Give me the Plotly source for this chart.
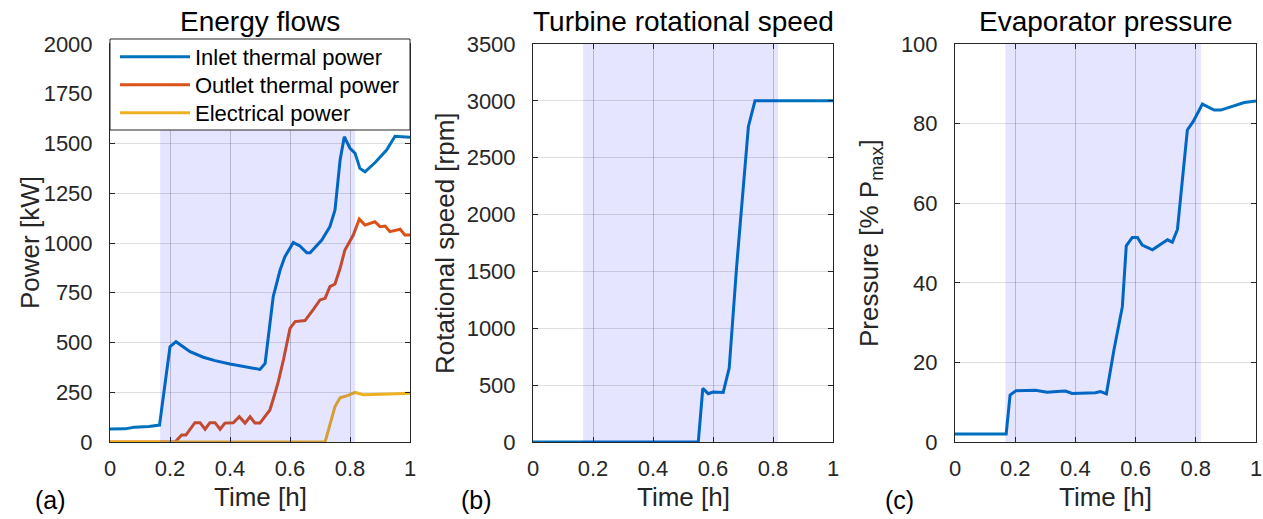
import plotly.graph_objects as go

W, H = 1263, 519

# ---------------- data ----------------
t_inlet = [0, 0.05, 0.08, 0.13, 0.165, 0.2, 0.22, 0.267, 0.311, 0.35, 0.4, 0.444, 0.5, 0.517,
           0.544, 0.567, 0.583, 0.611, 0.633, 0.656, 0.667, 0.706, 0.733, 0.75, 0.767, 0.781,
           0.8, 0.817, 0.833, 0.85, 0.883, 0.922, 0.95, 1.0]
p_inlet = [65, 66, 74, 78, 85, 479, 504, 454, 426, 409, 392, 379, 365, 395,
           730, 864, 931, 1002, 985, 951, 951, 1015, 1082, 1166, 1417, 1534,
           1476, 1451, 1375, 1358, 1403, 1467, 1536, 1531]

t_outlet = [0, 0.217, 0.239, 0.253, 0.283, 0.3, 0.317, 0.333, 0.35, 0.367, 0.383, 0.411, 0.431,
            0.45, 0.467, 0.483, 0.5, 0.533, 0.55, 0.561, 0.578, 0.6, 0.617, 0.65, 0.678, 0.7,
            0.717, 0.733, 0.75, 0.767, 0.783, 0.811, 0.831, 0.85, 0.883, 0.9, 0.917, 0.933,
            0.967, 0.983, 1.0]
p_outlet = [0, 0, 35, 35, 97, 97, 64, 97, 97, 64, 95, 97, 127,
            95, 127, 95, 95, 161, 245, 303, 412, 571, 605, 610, 667, 714,
            722, 781, 794, 873, 965, 1040, 1120, 1090, 1107, 1082, 1085, 1057,
            1069, 1040, 1040]

t_elec = [0, 0.717, 0.75, 0.767, 0.794, 0.817, 0.844, 0.883, 0.933, 1.0]
p_elec = [0, 0, 178, 222, 234, 249, 238, 238, 241, 245]

t_speed = [0, 0.551, 0.566, 0.584, 0.6, 0.634, 0.654, 0.679, 0.718, 0.74, 1.0]
speed = [0, 0, 472, 425, 440, 436, 650, 1550, 2775, 3000, 3000]

t_press = [0, 0.17, 0.183, 0.203, 0.267, 0.306, 0.339, 0.367, 0.389, 0.467, 0.483, 0.503,
           0.528, 0.556, 0.569, 0.589, 0.606, 0.622, 0.656, 0.689, 0.706, 0.722, 0.739,
           0.772, 0.791, 0.822, 0.861, 0.883, 0.928, 0.961, 1.0]
press = [2, 2, 11.8, 12.9, 13.0, 12.5, 12.7, 12.8, 12.2, 12.4, 12.7, 12.1,
         23.1, 34, 49.3, 51.4, 51.4, 49.5, 48.3, 49.9, 50.8, 50.2, 53.4,
         78.4, 80.5, 84.9, 83.4, 83.4, 84.4, 85.3, 85.7]

shade_start, shade_end = 0.167, 0.817

x_ticks = [0, 0.2, 0.4, 0.6, 0.8, 1]
x_ticktext = ["0", "0.2", "0.4", "0.6", "0.8", "1"]
y1_ticks = [0, 250, 500, 750, 1000, 1250, 1500, 1750, 2000]
y2_ticks = [0, 500, 1000, 1500, 2000, 2500, 3000, 3500]
y3_ticks = [0, 20, 40, 60, 80, 100]

titles = ["Energy flows", "Turbine rotational speed", "Evaporator pressure"]
ylabels = ["Power [kW]", "Rotational speed [rpm]", "Pressure [% P<sub>max</sub>]"]
panel_tags = ["(a)", "(b)", "(c)"]
series_names = ["Inlet thermal power", "Outlet thermal power", "Electrical power"]

# ---------------- style ----------------
FONT = "Liberation Sans"
AX = "#262626"
C_BLUE, C_RED, C_YEL = "#0072BD", "#D95319", "#EDB120"
LW = 3

# pixel layout
px_left = [110, 533, 955]
px_right = [410, 833, 1256]
py_top, py_bot = 44, 442


def fx(px):
    return px / W


def fy(py):
    return 1 - py / H


fig = go.Figure()

fig.add_trace(go.Scatter(x=t_inlet, y=p_inlet, mode="lines", name=series_names[0],
                         line=dict(color=C_BLUE, width=LW), xaxis="x", yaxis="y", legend="legend"))
fig.add_trace(go.Scatter(x=t_outlet, y=p_outlet, mode="lines", name=series_names[1],
                         line=dict(color=C_RED, width=LW), xaxis="x", yaxis="y", legend="legend2"))
fig.add_trace(go.Scatter(x=t_elec, y=p_elec, mode="lines", name=series_names[2],
                         line=dict(color=C_YEL, width=LW), xaxis="x", yaxis="y", legend="legend3"))
fig.add_trace(go.Scatter(x=t_speed, y=speed, mode="lines", showlegend=False,
                         line=dict(color=C_BLUE, width=LW), xaxis="x2", yaxis="y2"))
fig.add_trace(go.Scatter(x=t_press, y=press, mode="lines", showlegend=False,
                         line=dict(color=C_BLUE, width=LW), xaxis="x3", yaxis="y3"))

tickfont = dict(family=FONT, size=22, color=AX)


def xaxis_cfg(i):
    return dict(domain=[fx(px_left[i]), fx(px_right[i])], range=[0, 1],
                tickvals=x_ticks, ticktext=x_ticktext, tickfont=tickfont,
                showgrid=True, gridcolor="rgba(0,0,0,0.2)", gridwidth=1, zeroline=False,
                showline=True, linecolor=AX, linewidth=1, mirror="ticks",
                ticks="inside", ticklen=5, tickcolor=AX, ticklabelstandoff=7,
                automargin=False,
                anchor="y" if i == 0 else f"y{i+1}", fixedrange=True)


def yaxis_cfg(i, rng, tv):
    return dict(domain=[fy(py_bot), fy(py_top)], range=rng, tickvals=tv, tickfont=tickfont,
                showgrid=True, gridcolor="rgba(0,0,0,0.13)", gridwidth=1, zeroline=False,
                showline=True, linecolor=AX, linewidth=1, mirror="ticks",
                ticks="inside", ticklen=5, tickcolor=AX, ticklabelstandoff=12,
                automargin=False,
                anchor="x" if i == 0 else f"x{i+1}", fixedrange=True)


shapes = []
for i, xr in enumerate(["x", "x2", "x3"]):
    shapes.append(dict(type="rect", xref=xr, yref=f"{'y' if i == 0 else 'y' + str(i+1)} domain",
                       x0=shade_start, x1=shade_end, y0=0, y1=1,
                       fillcolor="rgba(0,0,255,0.1)", line=dict(width=0), layer="above"))
# legend box
shapes.append(dict(type="rect", xref="paper", yref="paper",
                   x0=fx(110), x1=fx(410), y0=fy(130), y1=fy(39),
                   fillcolor="white", line=dict(color=AX, width=1), layer="above"))

annotations = []
centers = [(px_left[i] + px_right[i]) / 2 for i in range(3)]
ylab_x = [30, 445, 870]
tag_x = [50, 476, 899]
for i in range(3):
    annotations.append(dict(text=titles[i], x=fx(centers[i]), y=fy(21), xref="paper", yref="paper",
                            xanchor="center", yanchor="middle", showarrow=False,
                            font=dict(family=FONT, size=28, color="black")))
    annotations.append(dict(text="Time [h]", x=fx(centers[i]), y=fy(497), xref="paper", yref="paper",
                            xanchor="center", yanchor="middle", showarrow=False,
                            font=dict(family=FONT, size=26, color=AX)))
    annotations.append(dict(text=panel_tags[i], x=fx(tag_x[i]), y=fy(500), xref="paper", yref="paper",
                            xanchor="center", yanchor="middle", showarrow=False,
                            font=dict(family=FONT, size=25, color="black")))
    annotations.append(dict(text=ylabels[i], x=fx(ylab_x[i]), y=fy((py_top + py_bot) / 2),
                            xref="paper", yref="paper", textangle=-90,
                            xanchor="center", yanchor="middle", showarrow=False,
                            font=dict(family=FONT, size=26, color=AX)))


def legend_cfg(py):
    return dict(x=fx(115), y=fy(py), xanchor="left", yanchor="middle",
                bgcolor="rgba(0,0,0,0)", borderwidth=0, itemwidth=70,
                font=dict(family=FONT, size=22, color="black"))


fig.update_layout(
    width=W, height=H, margin=dict(l=0, r=0, t=0, b=0, autoexpand=False),
    paper_bgcolor="white", plot_bgcolor="white",
    xaxis=xaxis_cfg(0), xaxis2=xaxis_cfg(1), xaxis3=xaxis_cfg(2),
    yaxis=yaxis_cfg(0, [0, 2000], y1_ticks),
    yaxis2=yaxis_cfg(1, [0, 3500], y2_ticks),
    yaxis3=yaxis_cfg(2, [0, 100], y3_ticks),
    shapes=shapes, annotations=annotations,
    legend=legend_cfg(57), legend2=legend_cfg(85), legend3=legend_cfg(113),
    showlegend=True,
)

fig.write_html("out.html")
